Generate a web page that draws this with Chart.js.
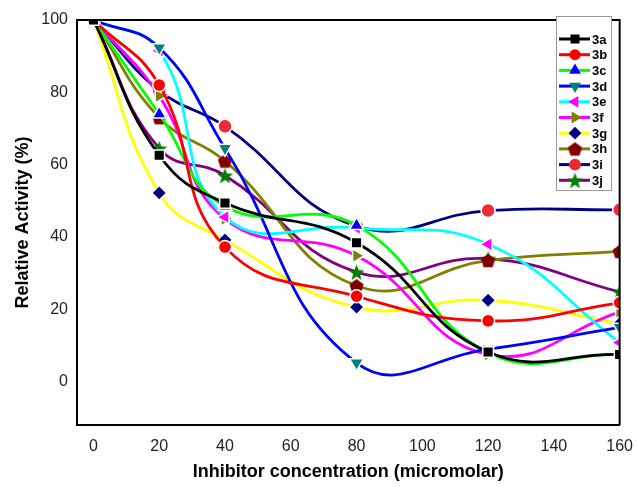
<!DOCTYPE html>
<html>
<head>
<meta charset="utf-8">
<script src="https://cdn.jsdelivr.net/npm/chart.js@4.4.0/dist/chart.umd.min.js"></script>
<style>
  html, body { margin: 0; padding: 0; background: #fff; }
  #wrap { width: 637px; height: 487px; }
</style>
</head>
<body>
<div id="wrap"><canvas id="activityChart" width="637" height="487"></canvas></div>
<script>
// inhibitor concentrations (micromolar)
const conc = [0, 20, 40, 80, 120, 160];

// relative activity (%)
const s3a = [100, 62.6, 49.4, 38.4, 8.2, 7.5];
const s3b = [100, 82, 37.2, 23.6, 16.8, 21.8];
const s3c = [100, 74, 48.5, 43.2, 8, 7.5];
const s3d = [100, 92.3, 64.5, 5.2, 9, 15];
const s3e = [100, 91.5, 45.5, 42.5, 38, 10.8];
const s3f = [100, 79, 45, 34.8, 7.5, 19.3];
const s3g = [100, 52.2, 39.2, 20.6, 22.5, 16];
const s3h = [100, 73, 61, 26.5, 33.5, 36];
const s3i = [100, 80.5, 70.6, 43, 47.3, 47.5];
const s3j = [100, 64.5, 57, 30.3, 34, 24.8];

const seriesNames = ['3a', '3b', '3c', '3d', '3e', '3f', '3g', '3h', '3i', '3j'];
const seriesValues = [s3a, s3b, s3c, s3d, s3e, s3f, s3g, s3h, s3i, s3j];

const xTicks = [0, 20, 40, 60, 80, 100, 120, 140, 160];
const yTicks = [0, 20, 40, 60, 80, 100];

// small canvases for markers chart.js doesn't have
function makePentagon(color, r) {
    const c = document.createElement('canvas');
    const s = Math.ceil(r * 2 + 2);
    c.width = s; c.height = s;
    const g = c.getContext('2d');
    g.fillStyle = color;
    g.beginPath();
    for (let i = 0; i < 5; i++) {
        const a = -Math.PI / 2 + i * 2 * Math.PI / 5;
        const px = s / 2 + r * Math.cos(a), py = s / 2 + 0.8 + r * Math.sin(a);
        i ? g.lineTo(px, py) : g.moveTo(px, py);
    }
    g.closePath();
    g.fill();
    return c;
}

function makeStar(color, r) {
    const c = document.createElement('canvas');
    const s = Math.ceil(r * 2 + 2);
    c.width = s; c.height = s;
    const g = c.getContext('2d');
    g.fillStyle = color;
    g.beginPath();
    for (let i = 0; i < 10; i++) {
        const a = -Math.PI / 2 + i * Math.PI / 5;
        const rr = i % 2 ? r * 0.42 : r;
        const px = s / 2 + rr * Math.cos(a), py = s / 2 + 1 + rr * Math.sin(a);
        i ? g.lineTo(px, py) : g.moveTo(px, py);
    }
    g.closePath();
    g.fill();
    return c;
}

const styles = [
    { line: '#000000', mark: '#000000', shape: 'rect', rot: 0, r: 7.5 },
    { line: '#ff0000', mark: '#ff0000', shape: 'circle', rot: 0, r: 6.5 },
    { line: '#00ff00', mark: '#0000ff', shape: 'triangle', rot: 0, r: 8 },
    { line: '#0000ff', mark: '#008080', shape: 'triangle', rot: 180, r: 8 },
    { line: '#00ffff', mark: '#ff00ff', shape: 'triangle', rot: 270, r: 8 },
    { line: '#ff00ff', mark: '#808000', shape: 'triangle', rot: 90, r: 8 },
    { line: '#ffff00', mark: '#000080', shape: 'rectRot', rot: 0, r: 7.5 },
    { line: '#808000', mark: '#800000', shape: makePentagon('#800000', 7.5), rot: 0, r: 7.5 },
    { line: '#000080', mark: '#ee2a3a', shape: 'circle', rot: 0, r: 7 },
    { line: '#800080', mark: '#008000', shape: makeStar('#008000', 8.5), rot: 0, r: 8.5 }
];

const datasets = seriesNames.map((name, i) => ({
    label: name,
    data: conc.map((x, k) => ({ x: x, y: seriesValues[i][k] })),
    borderColor: styles[i].line,
    backgroundColor: styles[i].mark,
    borderWidth: 2.8,
    pointStyle: styles[i].shape,
    rotation: styles[i].rot,
    pointRadius: styles[i].r,
    pointBackgroundColor: styles[i].mark,
    pointBorderColor: '#ffffff',
    pointBorderWidth: 1.5,
    tension: 0.45
}));

// frame on top/right + the legend box with line+marker samples
const framePlugin = {
    id: 'frameAndLegend',
    afterDraw(chart) {
        const ctx = chart.ctx;
        const a = chart.chartArea;
        ctx.save();
        ctx.strokeStyle = '#000';
        ctx.lineWidth = 2;
        ctx.beginPath();
        ctx.moveTo(a.left, a.top);
        ctx.lineTo(a.right, a.top);
        ctx.lineTo(a.right, a.bottom);
        ctx.stroke();

        // legend
        const bx = 556, by = 16, bw = 55, bh = 174;
        ctx.fillStyle = '#fff';
        ctx.fillRect(bx, by, bw, bh);
        ctx.strokeStyle = '#999';
        ctx.lineWidth = 1;
        ctx.strokeRect(bx + 0.5, by + 0.5, bw, bh);
        ctx.font = 'bold 13px "Liberation Sans", Arial, sans-serif';
        ctx.textBaseline = 'middle';
        seriesNames.forEach((name, i) => {
            const y = 39 + i * 15.7;
            const st = styles[i];
            ctx.strokeStyle = st.line;
            ctx.lineWidth = 3;
            ctx.beginPath();
            ctx.moveTo(559, y);
            ctx.lineTo(590, y);
            ctx.stroke();
            ctx.fillStyle = st.mark;
            ctx.strokeStyle = st.mark;
            Chart.helpers.drawPoint(ctx, {
                pointStyle: st.shape,
                rotation: st.rot,
                radius: st.r * 0.85,
                borderWidth: 0
            }, 575, y);
            ctx.fillStyle = '#000';
            ctx.fillText(name, 592, y + 1);
        });
        ctx.restore();
    }
};

const ctx = document.getElementById('activityChart').getContext('2d');
const activityChart = new Chart(ctx, {
    type: 'line',
    data: { datasets: datasets },
    options: {
        responsive: false,
        animation: false,
        layout: { padding: { left: 0, right: 12, top: 20, bottom: 0 } },
        elements: { line: { capBezierPoints: false } },
        plugins: {
            legend: { display: false },
            tooltip: { enabled: false }
        },
        scales: {
            x: {
                type: 'linear',
                min: -5,
                max: 160,
                afterFit: (scale) => { scale.height = 62; },
                afterBuildTicks: (scale) => { scale.ticks = xTicks.map(v => ({ value: v })); },
                grid: { display: false },
                border: { display: true, color: '#000', width: 2 },
                ticks: {
                    padding: 4,
                    color: '#222',
                    font: { family: '"Liberation Sans", Arial, sans-serif', size: 16 }
                },
                title: {
                    display: true,
                    text: 'Inhibitor concentration (micromolar)',
                    color: '#000',
                    padding: { top: 0, bottom: 4 },
                    font: { family: '"Liberation Sans", Arial, sans-serif', size: 18, weight: 'bold' }
                }
            },
            y: {
                min: -12,
                max: 100,
                afterFit: (scale) => { scale.width = 77; },
                afterBuildTicks: (scale) => { scale.ticks = yTicks.map(v => ({ value: v })); },
                grid: { display: false },
                border: { display: true, color: '#000', width: 2 },
                ticks: {
                    padding: 1,
                    color: '#222',
                    font: { family: '"Liberation Sans", Arial, sans-serif', size: 16 }
                },
                title: {
                    display: true,
                    text: 'Relative Activity (%)',
                    color: '#000',
                    padding: { top: 12, bottom: 0 },
                    font: { family: '"Liberation Sans", Arial, sans-serif', size: 18, weight: 'bold' }
                }
            }
        }
    },
    plugins: [framePlugin]
});
</script>
</body>
</html>
